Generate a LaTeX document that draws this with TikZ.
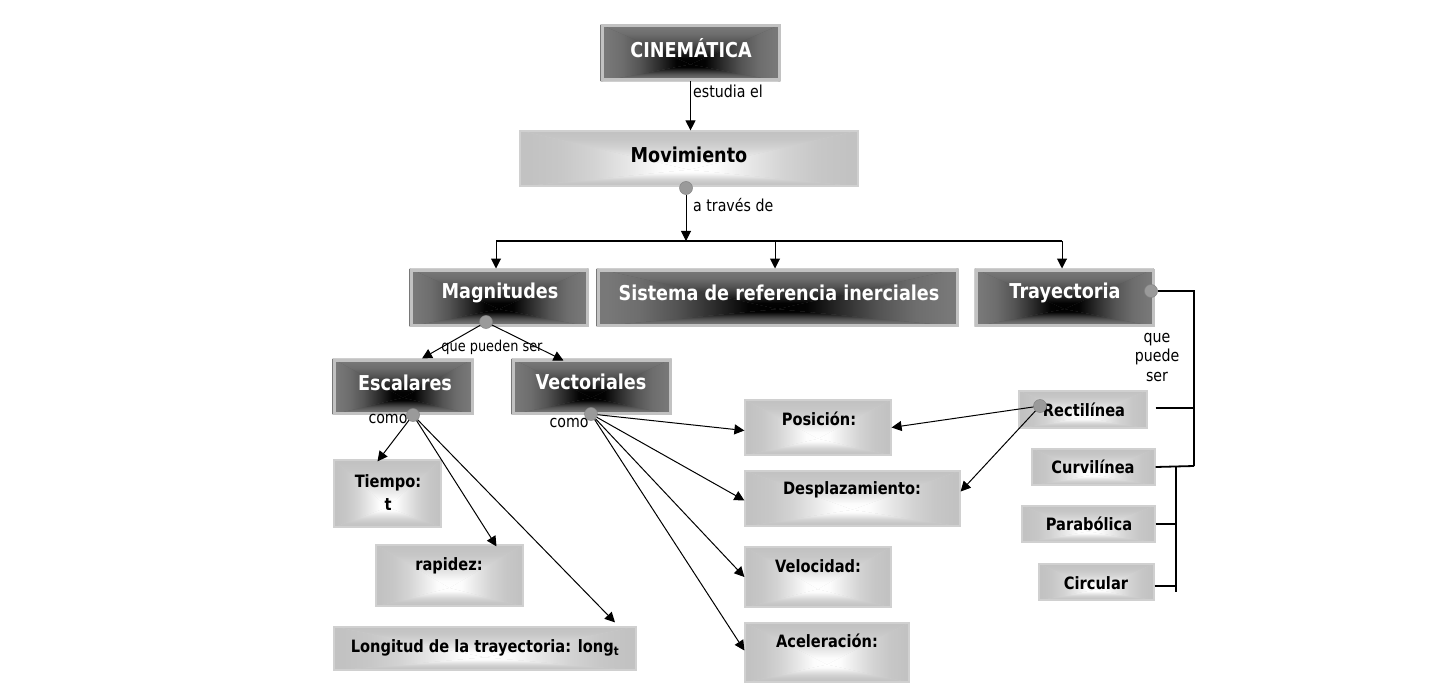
\documentclass[tikz,border=0pt]{standalone}
\usepackage{fontspec}
\setmainfont{DejaVu Sans}[FakeStretch=0.86]
\usetikzlibrary{arrows.meta,calc,backgrounds}
\definecolor{dkout}{HTML}{787878}
\definecolor{ltout}{HTML}{C2C2C2}
\definecolor{dkborder}{HTML}{C2C2C2}
\definecolor{ltborder}{HTML}{D0D0D0}
\definecolor{dotgray}{HTML}{9A9A9A}
\pgfdeclareverticalshading{dkV}{100bp}{color(0bp)=(black); color(25bp)=(black); color(33bp)=(black!97!dkout); color(43bp)=(black!62!dkout); color(53bp)=(black!30!dkout); color(63bp)=(black!9!dkout); color(72bp)=(dkout); color(100bp)=(dkout)}
\pgfdeclareverticalshading{ltV}{100bp}{color(0bp)=(white); color(25bp)=(white); color(33bp)=(white!95!ltout); color(43bp)=(white!60!ltout); color(53bp)=(white!28!ltout); color(63bp)=(white!8!ltout); color(72bp)=(ltout); color(100bp)=(ltout)}
% rectangular "from centre" gradient behind a named box node: #1 node, #2 shading, #3 relative height of the centre, #4 base colour
\newcommand\pillowfill[4]{%
\begin{pgfonlayer}{background}
\fill[#4] (#1.north west) rectangle (#1.south east);
\path let \p1=(#1.north west), \p2=(#1.south east), \n1={(\x1+\x2)/2}, \n2={\y1-#3*(\y1-\y2)} in
  [shading=#2] (\x1,\y1) -- (\x2,\y1) -- (\n1,\n2) -- cycle;
\path let \p1=(#1.north west), \p2=(#1.south east), \n1={(\x1+\x2)/2}, \n2={\y1-#3*(\y1-\y2)} in
  [shading=#2, shading angle=180] (\x1,\y2) -- (\x2,\y2) -- (\n1,\n2) -- cycle;
\path let \p1=(#1.north west), \p2=(#1.south east), \n1={(\x1+\x2)/2}, \n2={\y1-#3*(\y1-\y2)} in
  [shading=#2, shading angle=90] (\x1,\y1) -- (\n1,\n2) -- (\x1,\y2) -- cycle;
\path let \p1=(#1.north west), \p2=(#1.south east), \n1={(\x1+\x2)/2}, \n2={\y1-#3*(\y1-\y2)} in
  [shading=#2, shading angle=-90] (\x2,\y1) -- (\n1,\n2) -- (\x2,\y2) -- cycle;
\end{pgfonlayer}}
\newcommand\darkfill[1]{\pillowfill{#1}{dkV}{0.7}{black!25!dkout}}
\newcommand\lightfill[1]{\pillowfill{#1}{ltV}{0.7}{white!25!ltout}}
\tikzset{
  darkbox/.style={draw=dkborder, line width=3pt, inner sep=0pt},
  lightbox/.style={draw=ltborder, line width=1.2pt, inner sep=0pt},
  dtitle/.style={text=white, font=\fontsize{20.5}{24}\selectfont\bfseries, inner sep=0pt},
  ltitle/.style={text=black, font=\fontsize{17}{23}\selectfont\bfseries, inner sep=0pt, align=center},
  lbl/.style={text=black, font=\fontsize{16.5}{19.5}\selectfont, inner sep=0pt, align=center},
  dotnode/.style={circle, fill=dotgray, draw=dotgray!85!black, line width=0.5pt, minimum size=13pt, inner sep=0pt},
  arr/.style={-{Triangle[length=10pt,width=10pt]}, line width=1pt, black},
  tree/.style={line width=1.8pt, black}
}
\begin{document}
\begin{tikzpicture}[x=1pt,y=-1pt]
\useasboundingbox (0,0) rectangle (1443,687);
% boxes
\node[darkbox, minimum width=177pt, minimum height=54pt] (cin) at (690.5,53) {};
\node[lightbox, minimum width=338pt, minimum height=55pt] (mov) at (689,158.5) {};
\node[darkbox, minimum width=176pt, minimum height=55pt] (mag) at (499,297.5) {};
\node[darkbox, minimum width=359pt, minimum height=55pt] (sis) at (777.5,297.5) {};
\node[darkbox, minimum width=177pt, minimum height=55pt] (tra) at (1064.5,297.5) {};
\node[darkbox, minimum width=138pt, minimum height=53pt] (esc) at (403,386.5) {};
\node[darkbox, minimum width=157pt, minimum height=53pt] (vec) at (591.5,386.5) {};
\node[lightbox, minimum width=146pt, minimum height=55pt] (pos) at (818,427.5) {};
\node[lightbox, minimum width=215pt, minimum height=55pt] (des) at (852.5,498.5) {};
\node[lightbox, minimum width=146pt, minimum height=60pt] (vel) at (818,577) {};
\node[lightbox, minimum width=164pt, minimum height=59pt] (ace) at (827,652.5) {};
\node[lightbox, minimum width=107pt, minimum height=67pt] (tie) at (387.5,493.5) {};
\node[lightbox, minimum width=147pt, minimum height=61pt] (rap) at (449.5,575.5) {};
\node[lightbox, minimum width=302pt, minimum height=43pt] (lon) at (485,648.5) {};
\node[lightbox, minimum width=128pt, minimum height=37pt] (rec) at (1083,409.5) {};
\node[lightbox, minimum width=123pt, minimum height=36pt] (cur) at (1093.5,467) {};
\node[lightbox, minimum width=133pt, minimum height=36pt] (par) at (1088.5,524) {};
\node[lightbox, minimum width=115pt, minimum height=36pt] (cir) at (1096.5,582) {};
\darkfill{cin}
\darkfill{mag}
\darkfill{sis}
\darkfill{tra}
\darkfill{esc}
\darkfill{vec}
\lightfill{mov}
\lightfill{pos}
\lightfill{des}
\lightfill{vel}
\lightfill{ace}
\lightfill{tie}
\lightfill{rap}
\lightfill{lon}
\lightfill{rec}
\lightfill{cur}
\lightfill{par}
\lightfill{cir}
% texts
\node[dtitle] (cinT) at (691,48) {CINEMÁTICA};
\node[ltitle, font=\fontsize{20.5}{24}\selectfont\bfseries] (movT) at (689,155) {Movimiento};
\node[dtitle] (magT) at (500,293) {Magnitudes};
\node[dtitle] (sisT) at (779,293) {Sistema de referencia inerciales};
\node[dtitle] (traT) at (1065,293) {Trayectoria};
\node[dtitle] (escT) at (405,383) {Escalares};
\node[dtitle] (vecT) at (591,382) {Vectoriales};
\node[ltitle] (posT) at (819,419) {Posición:};
\node[ltitle] (desT) at (852,490) {Desplazamiento:};
\node[ltitle] (velT) at (818,566) {Velocidad:};
\node[ltitle] (aceT) at (827,641) {Aceleración:};
\node[ltitle] (tieT) at (388,493) {Tiempo:\\t};
\node[ltitle] (rapT) at (449,566) {rapidez:};
\node[ltitle] (lonT) at (485,648) {Longitud de la trayectoria: long\textsubscript{t}};
\node[ltitle] (recT) at (1084,410) {Rectilínea};
\node[ltitle] (curT) at (1093,467) {Curvilínea};
\node[ltitle] (parT) at (1089,524) {Parabólica};
\node[ltitle] (cirT) at (1096,583) {Circular};
% labels
\node[lbl, anchor=west] (l1) at (693,91) {estudia el};
\node[lbl, anchor=west] (l2) at (693,205) {a través de};
\node[lbl, font=\fontsize{15}{18}\selectfont] (l3) at (492,347) {que pueden ser};
\node[lbl] (l4) at (388,419) {como};
\node[lbl] (l5) at (569,423) {como};
\node[lbl] (l6) at (1157,357) {que\\puede\\ser};
% dots
\node[dotnode] (mdot) at (686,188) {};
\node[dotnode] (gdot) at (486,322) {};
\node[dotnode] (edot) at (413,415) {};
\node[dotnode] (vdot) at (591,414) {};
\node[dotnode] (tdot) at (1151,291) {};
\node[dotnode] (rdot) at (1040,406) {};
% coordinates
\coordinate (hub) at (686,241);
\coordinate (hL) at (496,241);
\coordinate (hM) at (775,241);
\coordinate (hR) at (1062,241);
\coordinate (b1) at (1194,291);
\coordinate (b2) at (1194,466);
\coordinate (b3) at (1194,408);
\coordinate (c1) at (1176,466);
\coordinate (c2) at (1176,592);
% connectors
\draw[arr] (cin.south) -- (cin.south |- mov.north);
\draw[arr] (mdot) -- (hub);
\draw[tree] (hL) -- (hR);
\draw[arr] (hL) -- (hL |- mag.north);
\draw[arr] (hM) -- (hM |- sis.north);
\draw[arr] (hR) -- (hR |- tra.north);
\draw[arr] (gdot) -- ($(esc.north)+(19,0)$);
\draw[arr] (gdot) -- ($(vec.north)+(-28,2)$);
\draw[arr] (edot) -- ($(tie.north)+(-10,2)$);
\draw[arr] (edot) -- ($(rap.north)+(47,2)$);
\draw[arr] (edot) -- ($(lon.north)+(130,-4)$);
\draw[arr] (vdot) -- ($(pos.west)+(0,3)$);
\draw[arr] (vdot) -- ($(des.west)+(0,2)$);
\draw[arr] (vdot) -- (vel.west);
\draw[arr] (vdot) -- ($(ace.west)+(0,-2)$);
\draw[arr] (rdot) -- (pos.east);
\draw[arr] (rdot) -- ($(des.east)+(0,-7)$);
\draw[tree] (tdot) -- (b1) -- (b2);
\draw[tree] ($(rec.east)+(8,-1.5)$) -- (b3);
\draw[tree] (cur.east) -- (b2);
\draw[tree] (c1) -- (c2);
\draw[tree] (par.east) -- (par.east -| c1);
\draw[tree] ($(cir.east)+(0,4)$) -- ($(cir.east -| c1)+(0,4)$);
\end{tikzpicture}
\end{document}
